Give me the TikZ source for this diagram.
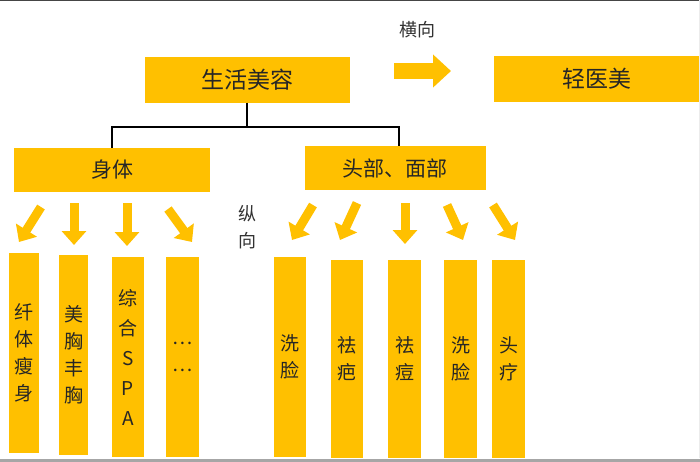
\documentclass[tikz,border=0pt]{standalone}
\usepackage{fontspec}
\setmainfont{Noto Sans CJK SC}
\usetikzlibrary{arrows.meta}
\definecolor{gold}{HTML}{FFC000}
\definecolor{frame}{HTML}{454545}
\tikzset{
  box/.style={fill=gold, draw=none, inner sep=0pt, font=\fontsize{21}{24}\selectfont, text=black!85},
  vbox/.style={fill=gold, draw=none, inner sep=0pt, align=center, font=\fontsize{19}{27}\selectfont, text=black!85},
  bigarrow/.style={draw=gold, line width=9pt, -{Triangle[length=14pt,width=24pt]}},
  widearrow/.style={draw=gold, line width=16pt, -{Triangle[length=18pt,width=32pt]}},
  link/.style={draw=black, line width=1.8pt},
  lbl/.style={font=\fontsize{18}{27}\selectfont, text=black!80, align=center}
}
\begin{document}
\begin{tikzpicture}[x=1pt,y=-1pt]
\useasboundingbox (0,0) rectangle (700,461);
\fill[white] (0,0) rectangle (700,461);
\draw[frame, line width=2pt] (0,0) -- (700,0);
\draw[gray!70, line width=3pt] (0,460) -- (700,460);
\draw[gray!15, line width=1pt] (699.5,0) -- (699.5,458);

% top row
\node[box, minimum width=205pt, minimum height=46pt, font=\fontsize{23}{26}\selectfont] (life) at (247,79.5) {生活美容};
\node[box, minimum width=205pt, minimum height=46pt, font=\fontsize{23}{26}\selectfont] (light) at (596.5,79) {轻医美};
\coordinate (hs) at (394,71);
\coordinate (he) at (451,71);
\draw[widearrow] (hs) -- (he);
\node[lbl] (hlabel) at (417,30) {横向};

% second row
\node[box, minimum width=196pt, minimum height=44pt] (body) at (112,170) {身体};
\node[box, minimum width=181pt, minimum height=44pt] (head) at (395,168) {头部、面部};
\draw[link] (life.south) -- ++(0,24) coordinate (jn);
\draw[link] (body.north -| 112,0) |- (jn) -| (head.north -| 399,0);

\node[lbl] (vlabel) at (247,227) {纵\\向};

% left columns
\node[vbox, minimum width=30pt, minimum height=200pt] (b1) at (24,353) {纤\\体\\瘦\\身};
\node[vbox, minimum width=29pt, minimum height=200pt] (b2) at (73.5,355) {美\\胸\\丰\\胸};
\node[vbox, minimum width=32pt, minimum height=200pt, font=\fontsize{19}{30}\selectfont] (b3) at (128,357) {综\\合\\S\\P\\A};
\node[vbox, minimum width=33pt, minimum height=200pt, font=\fontsize{19}{27}\selectfont] (b4) at (182.5,357) {…\\…};

% right columns
\node[vbox, minimum width=32pt, minimum height=200pt] (c1) at (290,357) {洗\\脸};
\node[vbox, minimum width=32pt, minimum height=198pt] (c2) at (347,359) {祛\\疤};
\node[vbox, minimum width=33pt, minimum height=198pt] (c3) at (404.5,359) {祛\\痘};
\node[vbox, minimum width=33pt, minimum height=198pt] (c4) at (460.5,359) {洗\\脸};
\node[vbox, minimum width=33pt, minimum height=198pt] (c5) at (508.5,359) {头\\疗};

% arrow ends
\coordinate (a1s) at (41,207);  \coordinate (a1e) at (19,242);
\coordinate (a2s) at (74,203);  \coordinate (a2e) at (74,245);
\coordinate (a3s) at (127,203); \coordinate (a3e) at (127,246);
\coordinate (a4s) at (168,209); \coordinate (a4e) at (192,242);
\coordinate (d1s) at (313,205); \coordinate (d1e) at (292,240);
\coordinate (d2s) at (357,203); \coordinate (d2e) at (340,240);
\coordinate (d3s) at (405,203); \coordinate (d3e) at (405,244);
\coordinate (d4s) at (447,205); \coordinate (d4e) at (463,240);
\coordinate (d5s) at (493,205); \coordinate (d5e) at (515,240);
\foreach \s/\e in {a1s/a1e,a2s/a2e,a3s/a3e,a4s/a4e,d1s/d1e,d2s/d2e,d3s/d3e,d4s/d4e,d5s/d5e}
  \draw[bigarrow] (\s) -- (\e);
\end{tikzpicture}
\end{document}
